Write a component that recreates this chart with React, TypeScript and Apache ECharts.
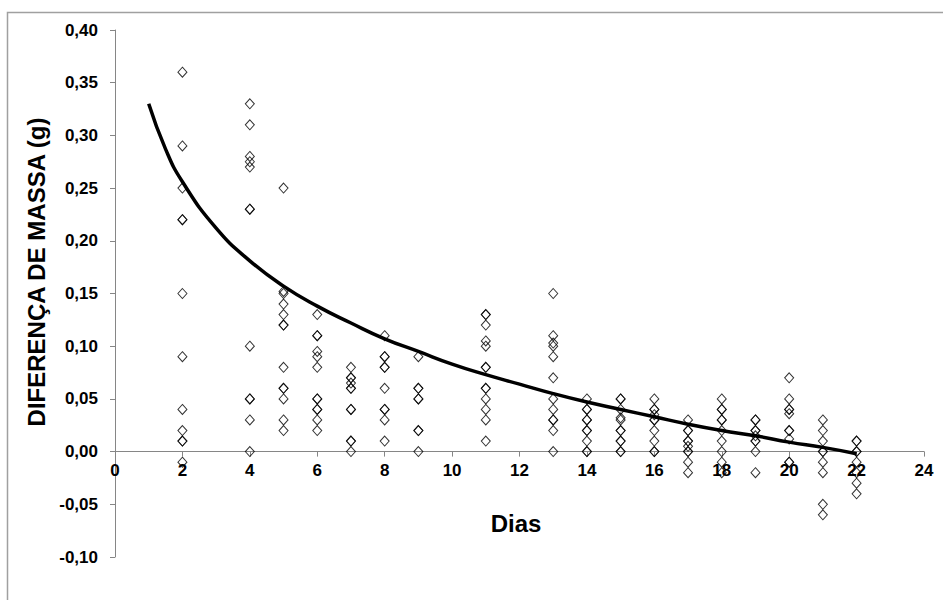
import React, { useEffect, useRef } from "react";
import * as echarts from "echarts";

// Observed days (x) and the mass differences read for each day (y)
const days = [2, 4, 5, 6, 7, 8, 9, 11, 13, 14, 15, 16, 17, 18, 19, 20, 21, 22];
const massByDay: number[][] = [
  [0.36, 0.29, 0.25, 0.22, 0.22, 0.15, 0.09, 0.04, 0.02, 0.01, 0.01, -0.01],
  [0.33, 0.31, 0.28, 0.275, 0.27, 0.23, 0.23, 0.1, 0.05, 0.05, 0.03, 0.0],
  [0.25, 0.152, 0.15, 0.14, 0.13, 0.12, 0.12, 0.08, 0.06, 0.06, 0.05, 0.03, 0.02],
  [0.13, 0.11, 0.11, 0.095, 0.09, 0.08, 0.05, 0.05, 0.04, 0.04, 0.03, 0.02],
  [0.08, 0.07, 0.07, 0.065, 0.06, 0.06, 0.04, 0.04, 0.01, 0.01, 0.0],
  [0.11, 0.09, 0.09, 0.08, 0.08, 0.06, 0.04, 0.04, 0.03, 0.01],
  [0.09, 0.06, 0.06, 0.05, 0.05, 0.02, 0.02, 0.0],
  [0.13, 0.13, 0.12, 0.105, 0.1, 0.08, 0.08, 0.06, 0.06, 0.05, 0.04, 0.03, 0.01],
  [0.15, 0.11, 0.103, 0.1, 0.09, 0.07, 0.05, 0.04, 0.03, 0.03, 0.02, 0.0],
  [0.05, 0.04, 0.04, 0.03, 0.03, 0.02, 0.02, 0.01, 0.0, 0.0],
  [0.05, 0.05, 0.04, 0.032, 0.03, 0.02, 0.02, 0.01, 0.01, 0.0, 0.0],
  [0.05, 0.04, 0.04, 0.035, 0.03, 0.03, 0.02, 0.01, 0.0, 0.0],
  [0.03, 0.02, 0.02, 0.01, 0.01, 0.005, 0.0, 0.0, -0.01, -0.02],
  [0.05, 0.04, 0.04, 0.03, 0.03, 0.02, 0.01, 0.0, -0.01, -0.02],
  [0.03, 0.03, 0.02, 0.02, 0.015, 0.01, 0.01, 0.0, -0.02],
  [0.07, 0.05, 0.04, 0.04, 0.036, 0.02, 0.02, 0.012, -0.01, -0.01],
  [0.03, 0.02, 0.01, 0.0, 0.0, -0.01, -0.02, -0.05, -0.06],
  [0.01, 0.01, 0.0, 0.0, -0.01, -0.02, -0.03, -0.04],
];

// Trend curve
const trendX = [1, 1.5, 2, 3, 4, 5, 6, 7, 8, 9, 10, 11, 12, 13, 14, 15, 16, 17, 18, 19, 20, 21, 22];
const trendY = [
  0.33, 0.287, 0.256, 0.212, 0.181, 0.157, 0.138, 0.122, 0.107, 0.095, 0.083, 0.073,
  0.064, 0.055, 0.047, 0.04, 0.033, 0.026, 0.02, 0.015, 0.009, 0.004, -0.002,
];

const xTitle = "Dias";
const yTitle = "DIFERENÇA DE MASSA (g)";

export default function App() {
  const ref = useRef<HTMLDivElement>(null);

  useEffect(() => {
    if (!ref.current) return;
    const chart = echarts.init(ref.current, undefined, { renderer: "svg" });

    const scatterData: number[][] = [];
    days.forEach((d, i) => {
      massByDay[i].forEach((v) => scatterData.push([d, v]));
    });
    const trendData = trendX.map((x, i) => [x, trendY[i]]);

    const font = "Arial, 'Liberation Sans', Helvetica, sans-serif";
    const axisColor = "#868686";

    // Main plotting grid spans the full value range; the second grid ends at y = 0
    // so that its x axis (with labels) sits on the zero line.
    const yMin = -0.1;
    const yMax = 0.4;
    const plotTop = 30;
    const plotBottomPx = 557;
    const zeroPx = plotTop + ((yMax - 0) / (yMax - yMin)) * (plotBottomPx - plotTop);

    chart.setOption({
      animation: false,
      backgroundColor: "#ffffff",
      grid: [
        { left: 115, right: 19, top: plotTop, bottom: 600 - plotBottomPx, containLabel: false },
        { left: 115, right: 19, top: plotTop, height: zeroPx - plotTop, containLabel: false },
      ],
      xAxis: [
        {
          type: "value",
          gridIndex: 0,
          min: 0,
          max: 24,
          interval: 2,
          show: false,
        },
        {
          type: "value",
          gridIndex: 1,
          min: 0,
          max: 24,
          interval: 2,
          position: "bottom",
          axisLine: { show: true, onZero: false, lineStyle: { color: axisColor, width: 1 } },
          axisTick: { show: true, inside: false, length: 5, lineStyle: { color: axisColor } },
          axisLabel: {
            color: "#000",
            fontFamily: font,
            fontWeight: "bold",
            fontSize: 17,
            margin: 10,
          },
          splitLine: { show: false },
        },
      ],
      yAxis: [
        {
          type: "value",
          gridIndex: 0,
          min: yMin,
          max: yMax,
          interval: 0.05,
          axisLine: { show: true, onZero: false, lineStyle: { color: axisColor, width: 1 } },
          axisTick: { show: true, inside: false, length: 5, lineStyle: { color: axisColor } },
          axisLabel: {
            color: "#000",
            fontFamily: font,
            fontWeight: "bold",
            fontSize: 17,
            margin: 17,
            formatter: (v: number) => v.toFixed(2).replace(".", ","),
          },
          splitLine: { show: false },
        },
        {
          type: "value",
          gridIndex: 1,
          min: 0,
          max: yMax,
          show: false,
        },
      ],
      graphic: [
        {
          type: "rect",
          silent: true,
          shape: { x: 7.5, y: 12.5, width: 1200, height: 1200 },
          style: { fill: "none", stroke: "#a0a0a0", lineWidth: 1.5 },
          z: -10,
        },
        {
          type: "text",
          x: 516,
          y: 523,
          style: {
            text: xTitle,
            fill: "#000",
            font: `bold 24px ${font}`,
            align: "center",
            verticalAlign: "middle",
          },
        },
        {
          type: "text",
          x: 36,
          y: 272,
          rotation: Math.PI / 2,
          style: {
            text: yTitle,
            fill: "#000",
            font: `bold 24px ${font}`,
            align: "center",
            verticalAlign: "middle",
          },
        },
      ],
      series: [
        {
          type: "scatter",
          xAxisIndex: 0,
          yAxisIndex: 0,
          data: scatterData,
          symbol: "diamond",
          symbolSize: [9, 10],
          itemStyle: { color: "rgba(255,255,255,0)", borderColor: "#000", borderWidth: 1 },
          z: 2,
        },
        {
          type: "line",
          xAxisIndex: 0,
          yAxisIndex: 0,
          data: trendData,
          smooth: true,
          showSymbol: false,
          symbol: "none",
          lineStyle: { color: "#000", width: 3.5 },
          z: 3,
        },
      ],
    });

    return () => chart.dispose();
  }, []);

  return (
    <div
      ref={ref}
      style={{ position: "fixed", left: 0, top: 0, width: 943, height: 600, background: "#fff" }}
    />
  );
}
